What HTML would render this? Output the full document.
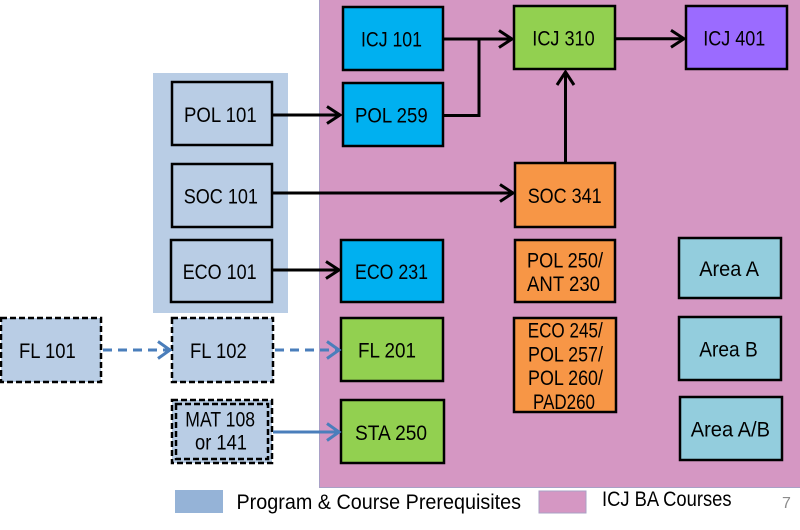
<!DOCTYPE html>
<html><head><meta charset="utf-8"><style>
html,body{margin:0;padding:0;background:#fff;}
svg{display:block;}
text{font-family:"Liberation Sans",sans-serif;font-size:21px;fill:#000;}
</style></head><body>
<svg width="800" height="530" viewBox="0 0 800 530" xmlns="http://www.w3.org/2000/svg">
<!-- regions -->
<rect x="319.5" y="-1" width="481" height="488.5" fill="#d597c3" stroke="#a9a0c6" stroke-width="1"/>
<rect x="153" y="73" width="135" height="240" fill="#b9cde5"/>

<g stroke="#000" stroke-width="2.5">
<rect x="172" y="82" width="100" height="63" fill="#b9cde5"/>
<rect x="172" y="164" width="100" height="63" fill="#b9cde5"/>
<rect x="171" y="240" width="101" height="62" fill="#b9cde5"/>
<rect x="343" y="7" width="100" height="63" fill="#00b0f0"/>
<rect x="343" y="83" width="100" height="63" fill="#00b0f0"/>
<rect x="341" y="240" width="102" height="62" fill="#00b0f0"/>
<rect x="514" y="6" width="101" height="63" fill="#92d050"/>
<rect x="341" y="318" width="102" height="63" fill="#92d050"/>
<rect x="341" y="400" width="103" height="63" fill="#92d050"/>
<rect x="686" y="6" width="101" height="63" fill="#9b6bff"/>
<rect x="515" y="163" width="100" height="64" fill="#f79646"/>
<rect x="515" y="240" width="100" height="62" fill="#f79646"/>
<rect x="514" y="318" width="102" height="94" fill="#f79646"/>
<rect x="679" y="238" width="102" height="60" fill="#93cddd"/>
<rect x="679" y="317" width="102" height="63" fill="#93cddd"/>
<rect x="680" y="397" width="102" height="63" fill="#93cddd"/>
</g>
<g stroke="#000" stroke-width="2.5" stroke-dasharray="6 3" fill="#b9cde5">
<rect x="1" y="318" width="100" height="64"/>
<rect x="172" y="318" width="101" height="64"/>
<rect x="172" y="400" width="100" height="63"/>
<rect x="176" y="404" width="92" height="55" fill="none"/>
</g>

<g stroke="#000" stroke-width="3" fill="none" stroke-linejoin="miter">
<path d="M273 115 H339"/><polyline points="327,106.5 340,115 327,123.5"/>
<path d="M444 39 H511"/><polyline points="499,30.5 512,39 499,47.5"/>
<path d="M444 115.5 H479 V39"/>
<path d="M616 38.7 H683"/><polyline points="671,30.2 684,38.7 671,47.2"/>
<path d="M565.5 162 V73"/><polyline points="557,85 565.5,72 574,85"/>
<path d="M273 193 H512"/><polyline points="500,184.5 513,193 500,201.5"/>
<path d="M273 270 H338"/><polyline points="326,261.5 339,270 326,278.5"/>
</g>
<g stroke="#4a7ebb" stroke-width="3" fill="none">
<path d="M103 350 H168" stroke-dasharray="9 6"/><polyline points="158,341.5 170,350 158,358.5"/>
<path d="M275 350 H337" stroke-dasharray="9 6"/><polyline points="327,341.5 339,350 327,358.5"/>
<path d="M273 432 H338"/><polyline points="327,423.5 339,432 327,440.5"/>
</g>

<g>
<text x="184" y="122" textLength="72.7" lengthAdjust="spacingAndGlyphs">POL 101</text>
<text x="183.7" y="203.5" textLength="74.3" lengthAdjust="spacingAndGlyphs">SOC 101</text>
<text x="182.7" y="279" textLength="74" lengthAdjust="spacingAndGlyphs">ECO 101</text>
<text x="361" y="46.7" textLength="61" lengthAdjust="spacingAndGlyphs">ICJ 101</text>
<text x="355" y="122.5" textLength="72.7" lengthAdjust="spacingAndGlyphs">POL 259</text>
<text x="532.3" y="45.5" textLength="62.4" lengthAdjust="spacingAndGlyphs">ICJ 310</text>
<text x="703.3" y="45.5" textLength="62" lengthAdjust="spacingAndGlyphs">ICJ 401</text>
<text x="527.7" y="203" textLength="74" lengthAdjust="spacingAndGlyphs">SOC 341</text>
<text x="355" y="279" textLength="73" lengthAdjust="spacingAndGlyphs">ECO 231</text>
<text x="699.3" y="276" textLength="59.7" lengthAdjust="spacingAndGlyphs">Area A</text>
<text x="699.3" y="356.5" textLength="58.4" lengthAdjust="spacingAndGlyphs">Area B</text>
<text x="690.7" y="436.5" textLength="79.3" lengthAdjust="spacingAndGlyphs">Area A/B</text>
<text x="358" y="357.5" textLength="58" lengthAdjust="spacingAndGlyphs">FL 201</text>
<text x="355" y="440" textLength="72" lengthAdjust="spacingAndGlyphs">STA 250</text>
<text x="19" y="358" textLength="56.7" lengthAdjust="spacingAndGlyphs">FL 101</text>
<text x="190" y="358" textLength="56.7" lengthAdjust="spacingAndGlyphs">FL 102</text>
<text x="185.3" y="426.7" textLength="69.7" lengthAdjust="spacingAndGlyphs">MAT 108</text>
<text x="195" y="449.3" textLength="52" lengthAdjust="spacingAndGlyphs">or 141</text>
<text x="527" y="267.5" textLength="76" lengthAdjust="spacingAndGlyphs">POL 250/</text>
<text x="527" y="291" textLength="73" lengthAdjust="spacingAndGlyphs">ANT 230</text>
<text x="527.7" y="337.5" textLength="75" lengthAdjust="spacingAndGlyphs">ECO 245/</text>
<text x="528" y="361.3" textLength="75" lengthAdjust="spacingAndGlyphs">POL 257/</text>
<text x="528" y="385.1" textLength="75" lengthAdjust="spacingAndGlyphs">POL 260/</text>
<text x="533" y="409" textLength="62" lengthAdjust="spacingAndGlyphs">PAD260</text>
</g>

<rect x="175" y="490" width="48" height="23" fill="#95b3d7"/>
<text x="236.5" y="509" textLength="284.5" lengthAdjust="spacingAndGlyphs">Program &amp; Course Prerequisites</text>
<rect x="539" y="491" width="47" height="22" fill="#d597c3" stroke="#a9a0c6" stroke-width="1"/>
<text x="602" y="506" textLength="129.5" lengthAdjust="spacingAndGlyphs">ICJ BA Courses</text>
<text x="782" y="508" style="font-size:16px;fill:#8c8c8c">7</text>
</svg>
</body></html>
